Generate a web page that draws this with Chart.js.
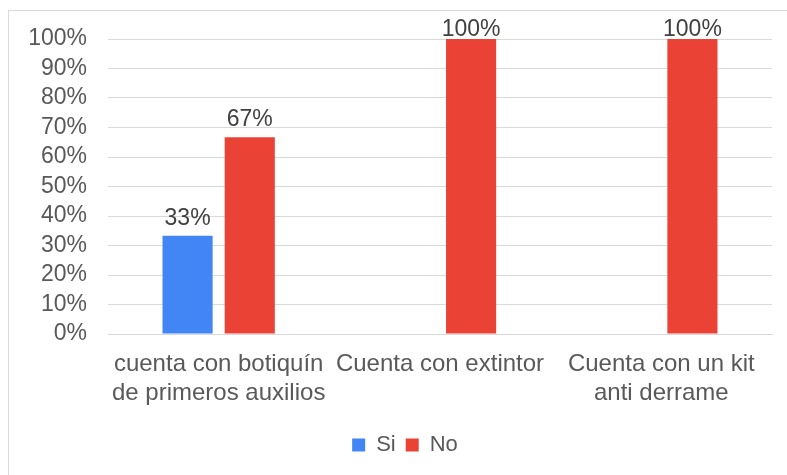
<!DOCTYPE html>
<html>
<head>
<meta charset="utf-8">
<script src="https://cdn.jsdelivr.net/npm/chart.js@4/dist/chart.umd.min.js"></script>
<style>
  html, body { margin: 0; padding: 0; background: #fff; }
  #wrap { width: 787px; height: 475px; }
</style>
</head>
<body>
<div id="wrap"><canvas id="grafico" width="787" height="475"></canvas></div>
<script>
// Datos del gráfico
const categorias = [
  ["cuenta con botiquín", "de primeros auxilios"],
  "Cuenta con extintor",
  ["Cuenta con un kit", "anti derrame"]
];
const valoresSi = [33.33, 0, 0];
const valoresNo = [66.67, 100, 100];
const ticksY = [0, 10, 20, 30, 40, 50, 60, 70, 80, 90, 100];

const fuente = "'Liberation Sans', Arial, sans-serif";

// Marco gris (solo se ve arriba e izquierda)
const marco = {
  id: "marco",
  beforeDraw(chart) {
    const ctx = chart.ctx;
    ctx.save();
    ctx.strokeStyle = "#d9d9d9";
    ctx.lineWidth = 1;
    ctx.strokeRect(8.5, 10.5, 900, 600);
    ctx.restore();
  },
  // la leyenda del original está un poco a la derecha
  afterLayout(chart) {
    chart.legend.left += 7;
    chart.legend.right += 7;
  }
};

// Etiquetas de porcentaje encima de las barras
const etiquetas = {
  id: "etiquetas",
  afterDatasetsDraw(chart) {
    const ctx = chart.ctx;
    ctx.save();
    ctx.font = "23px " + fuente;
    ctx.fillStyle = "#404040";
    ctx.textAlign = "center";
    ctx.textBaseline = "alphabetic";
    chart.data.datasets.forEach((ds, i) => {
      const meta = chart.getDatasetMeta(i);
      meta.data.forEach((bar, j) => {
        const v = ds.data[j];
        if (!v) return;
        const y = Math.max(bar.y - 11, chart.chartArea.top - 3);
        ctx.fillText(Math.round(v) + "%", bar.x, y);
      });
    });
    ctx.restore();
  }
};

new Chart(document.getElementById("grafico"), {
  type: "bar",
  data: {
    labels: categorias,
    datasets: [
      {
        label: "Si",
        data: valoresSi,
        backgroundColor: "#4285f4",
        categoryPercentage: 0.562,
        barPercentage: 0.806
      },
      {
        label: "No",
        data: valoresNo,
        backgroundColor: "#ea4335",
        categoryPercentage: 0.562,
        barPercentage: 0.806
      }
    ]
  },
  options: {
    responsive: false,
    animation: false,
    layout: { padding: { top: 39, left: 24, right: 15, bottom: 9 } },
    plugins: {
      tooltip: { enabled: false },
      legend: {
        position: "bottom",
        labels: {
          boxWidth: 13,
          boxHeight: 13,
          padding: 10,
          color: "#595959",
          font: { family: fuente, size: 22 }
        }
      }
    },
    scales: {
      x: {
        grid: { display: false },
        border: { display: true, color: "#d9d9d9" },
        ticks: {
          color: "#595959",
          font: { family: fuente, size: 24 },
          maxRotation: 0,
          autoSkip: false,
          padding: 8
        },
        afterFit(scale) { scale.height = 90; }
      },
      y: {
        min: 0,
        max: 100,
        afterBuildTicks(scale) { scale.ticks = ticksY.map(v => ({ value: v })); },
        grid: { color: "#d9d9d9", drawTicks: false },
        border: { display: false },
        ticks: {
          color: "#595959",
          font: { family: fuente, size: 23 },
          padding: 21,
          autoSkip: false,
          callback: v => v + "%"
        },
        afterFit(scale) { scale.width = 84; }
      }
    }
  },
  plugins: [marco, etiquetas]
});
</script>
</body>
</html>
